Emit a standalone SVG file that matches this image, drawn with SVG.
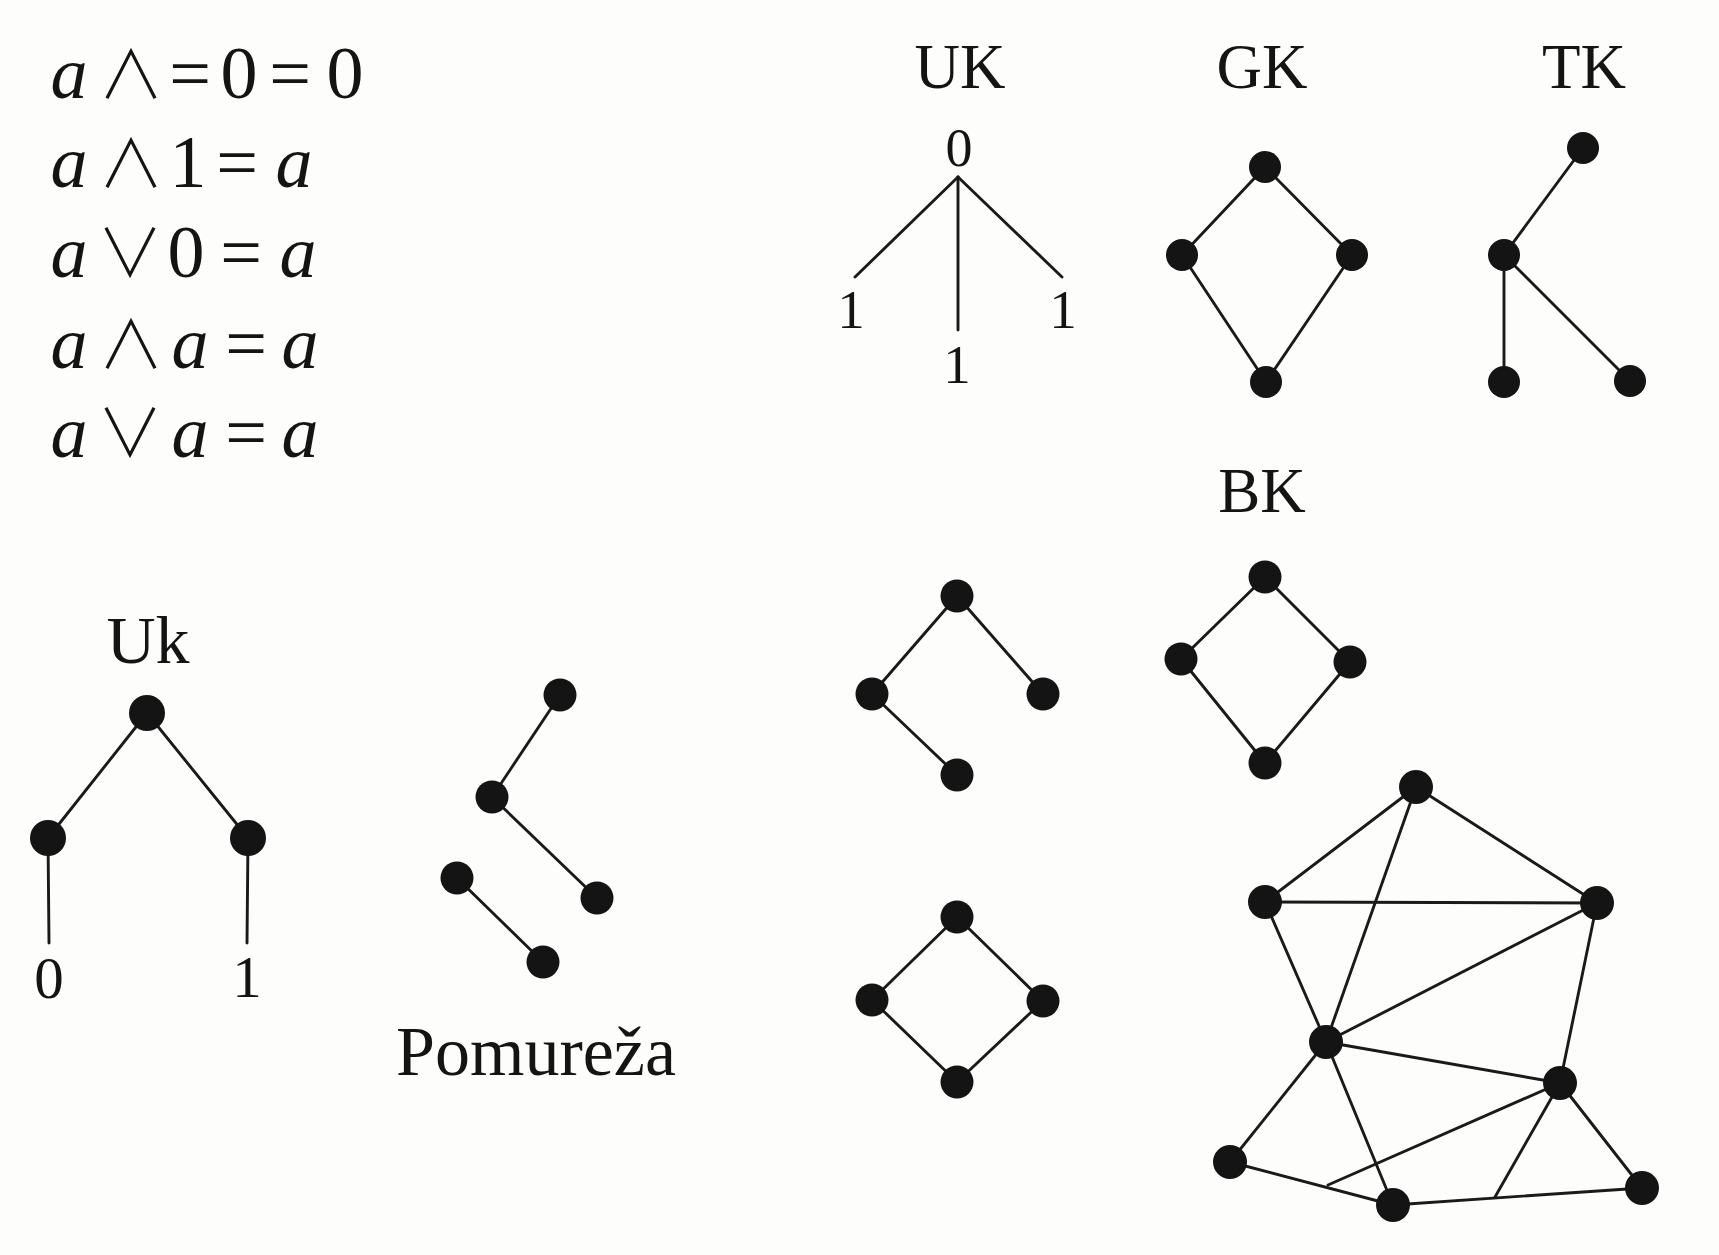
<svg xmlns="http://www.w3.org/2000/svg" width="1719" height="1255" viewBox="0 0 1719 1255">
<style>
.bg{fill:#fdfdfb}
.n{fill:#141414}
.e{stroke:#1a1a1a;stroke-width:2.9;fill:none;stroke-linecap:round}
.t{font-family:"Liberation Serif","Times New Roman",serif;fill:#141414;text-anchor:middle}
.m{font-family:"Liberation Serif","Times New Roman",serif;fill:#141414;text-anchor:middle;font-size:74px}
.mi{font-style:italic}
.op{font-family:"Noto Sans CJK JP","DejaVu Serif",sans-serif;font-size:66px;font-weight:300}
.lab{font-size:63px}
.num{font-size:55px}
</style>
<rect class="bg" x="0" y="0" width="1719" height="1255"/>

<g id="equations">
<text class="m" y="98"><tspan class="mi" x="69">a</tspan><tspan class="op" x="131">∧</tspan><tspan x="190">=</tspan><tspan x="239">0</tspan><tspan x="290">=</tspan><tspan x="345">0</tspan></text>
<text class="m" y="187"><tspan class="mi" x="69">a</tspan><tspan class="op" x="131">∧</tspan><tspan x="188">1</tspan><tspan x="237">=</tspan><tspan class="mi" x="294">a</tspan></text>
<text class="m" y="277"><tspan class="mi" x="69">a</tspan><tspan class="op" x="130">∨</tspan><tspan x="186">0</tspan><tspan x="241">=</tspan><tspan class="mi" x="298">a</tspan></text>
<text class="m" y="368"><tspan class="mi" x="69">a</tspan><tspan class="op" x="131">∧</tspan><tspan class="mi" x="190">a</tspan><tspan x="246">=</tspan><tspan class="mi" x="300">a</tspan></text>
<text class="m" y="457"><tspan class="mi" x="69">a</tspan><tspan class="op" x="130">∨</tspan><tspan class="mi" x="190">a</tspan><tspan x="246">=</tspan><tspan class="mi" x="300">a</tspan></text>
</g>

<g id="labels">
<text class="t lab" x="960" y="88">UK</text>
<text class="t lab" x="1262" y="88">GK</text>
<text class="t lab" x="1584" y="88">TK</text>
<text class="t lab" x="1262" y="512">BK</text>
<text class="t" x="148" y="663" font-size="68">Uk</text>
<text class="t" x="536" y="1075" font-size="70">Pomureža</text>
</g>

<g id="connectors">
<line class="e" x1="958" y1="177" x2="855" y2="277"/>
<line class="e" x1="958" y1="177" x2="958" y2="330"/>
<line class="e" x1="958" y1="177" x2="1062" y2="277"/>
<line class="e" x1="1265" y1="167" x2="1182" y2="255"/>
<line class="e" x1="1265" y1="167" x2="1352" y2="255"/>
<line class="e" x1="1182" y1="255" x2="1266" y2="382"/>
<line class="e" x1="1352" y1="255" x2="1266" y2="382"/>
<line class="e" x1="1583" y1="148" x2="1504" y2="255"/>
<line class="e" x1="1504" y1="255" x2="1504" y2="382"/>
<line class="e" x1="1504" y1="255" x2="1630" y2="381"/>
<line class="e" x1="147" y1="713" x2="48" y2="838"/>
<line class="e" x1="147" y1="713" x2="248" y2="838"/>
<line class="e" x1="48" y1="838" x2="49" y2="943"/>
<line class="e" x1="248" y1="838" x2="247" y2="943"/>
<line class="e" x1="560" y1="695" x2="492" y2="797"/>
<line class="e" x1="492" y1="797" x2="597" y2="898"/>
<line class="e" x1="457" y1="878" x2="543" y2="962"/>
<line class="e" x1="957" y1="596" x2="872" y2="694"/>
<line class="e" x1="957" y1="596" x2="1043" y2="694"/>
<line class="e" x1="872" y1="694" x2="957" y2="775"/>
<line class="e" x1="1265" y1="577" x2="1181" y2="659"/>
<line class="e" x1="1265" y1="577" x2="1350" y2="662"/>
<line class="e" x1="1181" y1="659" x2="1265" y2="763"/>
<line class="e" x1="1350" y1="662" x2="1265" y2="763"/>
<line class="e" x1="957" y1="917" x2="872" y2="1000"/>
<line class="e" x1="957" y1="917" x2="1043" y2="1001"/>
<line class="e" x1="872" y1="1000" x2="957" y2="1082"/>
<line class="e" x1="1043" y1="1001" x2="957" y2="1082"/>
<line class="e" x1="1416" y1="787" x2="1265" y2="902"/>
<line class="e" x1="1416" y1="787" x2="1326" y2="1042"/>
<line class="e" x1="1416" y1="787" x2="1597" y2="903"/>
<line class="e" x1="1265" y1="902" x2="1597" y2="903"/>
<line class="e" x1="1265" y1="902" x2="1326" y2="1042"/>
<line class="e" x1="1597" y1="903" x2="1326" y2="1042"/>
<line class="e" x1="1597" y1="903" x2="1560" y2="1083"/>
<line class="e" x1="1326" y1="1042" x2="1560" y2="1083"/>
<line class="e" x1="1326" y1="1042" x2="1230" y2="1162"/>
<line class="e" x1="1326" y1="1042" x2="1393" y2="1205"/>
<line class="e" x1="1560" y1="1083" x2="1328" y2="1185"/>
<line class="e" x1="1560" y1="1083" x2="1495" y2="1197"/>
<line class="e" x1="1560" y1="1083" x2="1642" y2="1188"/>
<line class="e" x1="1230" y1="1162" x2="1393" y2="1205"/>
<line class="e" x1="1393" y1="1205" x2="1642" y2="1188"/>
</g>

<g id="uk-tree">
<text class="t" x="959" y="166" font-size="54">0</text>
<text class="t num" x="851" y="328">1</text>
<text class="t num" x="957" y="383">1</text>
<text class="t num" x="1063" y="328">1</text>
</g>

<g id="gk-top"><circle class="n" cx="1265" cy="167" r="16"/></g>
<g id="gk-left"><circle class="n" cx="1182" cy="255" r="16"/></g>
<g id="gk-right"><circle class="n" cx="1352" cy="255" r="16"/></g>
<g id="gk-bottom"><circle class="n" cx="1266" cy="382" r="16"/></g>

<g id="tk-top"><circle class="n" cx="1583" cy="148" r="16"/></g>
<g id="tk-mid"><circle class="n" cx="1504" cy="255" r="16"/></g>
<g id="tk-bl"><circle class="n" cx="1504" cy="382" r="16"/></g>
<g id="tk-br"><circle class="n" cx="1630" cy="381" r="16"/></g>

<g id="uk-top"><circle class="n" cx="147" cy="713" r="18"/></g>
<g id="uk-left"><circle class="n" cx="48" cy="838" r="18"/></g>
<g id="uk-right"><circle class="n" cx="248" cy="838" r="18"/></g>
<g id="uk-label0"><text class="t" x="49" y="998" font-size="59">0</text></g>
<g id="uk-label1"><text class="t" x="247" y="997" font-size="59">1</text></g>

<g id="pm-1"><circle class="n" cx="560" cy="695" r="16.5"/></g>
<g id="pm-2"><circle class="n" cx="492" cy="797" r="16.5"/></g>
<g id="pm-3"><circle class="n" cx="597" cy="898" r="16.5"/></g>
<g id="pm-4"><circle class="n" cx="457" cy="878" r="16.5"/></g>
<g id="pm-5"><circle class="n" cx="543" cy="962" r="16.5"/></g>

<g id="bt-top"><circle class="n" cx="957" cy="596" r="16.5"/></g>
<g id="bt-left"><circle class="n" cx="872" cy="694" r="16.5"/></g>
<g id="bt-right"><circle class="n" cx="1043" cy="694" r="16.5"/></g>
<g id="bt-bottom"><circle class="n" cx="957" cy="775" r="16.5"/></g>

<g id="bd-top"><circle class="n" cx="1265" cy="577" r="16.5"/></g>
<g id="bd-left"><circle class="n" cx="1181" cy="659" r="16.5"/></g>
<g id="bd-right"><circle class="n" cx="1350" cy="662" r="16.5"/></g>
<g id="bd-bottom"><circle class="n" cx="1265" cy="763" r="16.5"/></g>

<g id="sd-top"><circle class="n" cx="957" cy="917" r="16.5"/></g>
<g id="sd-left"><circle class="n" cx="872" cy="1000" r="16.5"/></g>
<g id="sd-right"><circle class="n" cx="1043" cy="1001" r="16.5"/></g>
<g id="sd-bottom"><circle class="n" cx="957" cy="1082" r="16.5"/></g>

<g id="g-a"><circle class="n" cx="1416" cy="787" r="17"/></g>
<g id="g-b"><circle class="n" cx="1265" cy="902" r="17"/></g>
<g id="g-c"><circle class="n" cx="1597" cy="903" r="17"/></g>
<g id="g-d"><circle class="n" cx="1326" cy="1042" r="17"/></g>
<g id="g-e"><circle class="n" cx="1560" cy="1083" r="17"/></g>
<g id="g-f"><circle class="n" cx="1230" cy="1162" r="17"/></g>
<g id="g-g"><circle class="n" cx="1393" cy="1205" r="17"/></g>
<g id="g-h"><circle class="n" cx="1642" cy="1188" r="17"/></g>
</svg>
